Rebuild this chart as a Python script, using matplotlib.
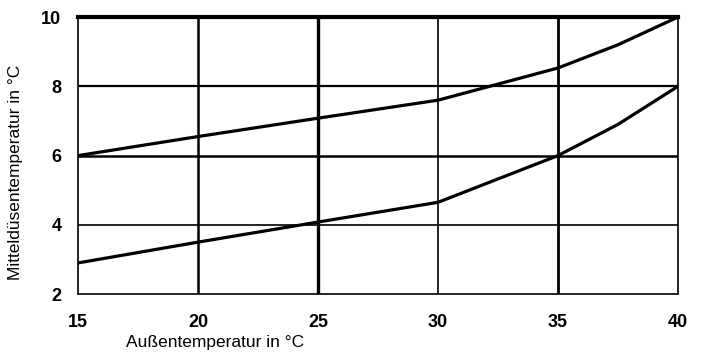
import matplotlib
matplotlib.use("Agg")
import matplotlib.pyplot as plt

# Daten
aussen = [15, 20, 25, 30, 35, 37.5, 40]
oben = [6.0, 6.55, 7.08, 7.6, 8.53, 9.2, 10.0]
unten = [2.9, 3.5, 4.08, 4.65, 6.0, 6.9, 8.0]
xticks = [15, 20, 25, 30, 35, 40]
yticks = [2, 4, 6, 8, 10]

plt.rcParams['font.family'] = ['Liberation Sans Narrow', 'Liberation Sans', 'DejaVu Sans']

fig = plt.figure(figsize=(7.04, 3.56), dpi=100)
ax = fig.add_axes([0.111, 0.174, 0.852, 0.778])

# Gitterlinien mit unterschiedlicher Stärke wie im Original
grid_x = {20: 1.8, 25: 2.4, 30: 1.2, 35: 2.0}
grid_y = {4: 1.2, 6: 1.8, 8: 1.6}
for gx, lw in grid_x.items():
    ax.axvline(gx, color='black', lw=lw, zorder=1)
for gy, lw in grid_y.items():
    ax.axhline(gy, color='black', lw=lw, zorder=1)

ax.plot(aussen, oben, color='black', lw=2.3, zorder=3)
ax.plot(aussen, unten, color='black', lw=2.3, zorder=3)

ax.set_xlim(15, 40)
ax.set_ylim(2, 10)
ax.set_xticks(xticks)
ax.set_yticks(yticks)
ax.tick_params(length=0, labelsize=13)
ax.tick_params(axis='x', pad=14)
ax.tick_params(axis='y', pad=12)
for lab in ax.get_xticklabels() + ax.get_yticklabels():
    lab.set_fontweight('bold')

ax.spines['top'].set_linewidth(3)
for s in ['left', 'right', 'bottom']:
    ax.spines[s].set_linewidth(1.2)

fig.text(0.305, 0.038, 'Außentemperatur in °C', ha='center', va='center', fontsize=12.5)
fig.text(0.022, 0.517, 'Mitteldüsentemperatur in °C', ha='center', va='center',
         rotation=90, fontsize=12.5)

fig.savefig('out.png', dpi=100)
